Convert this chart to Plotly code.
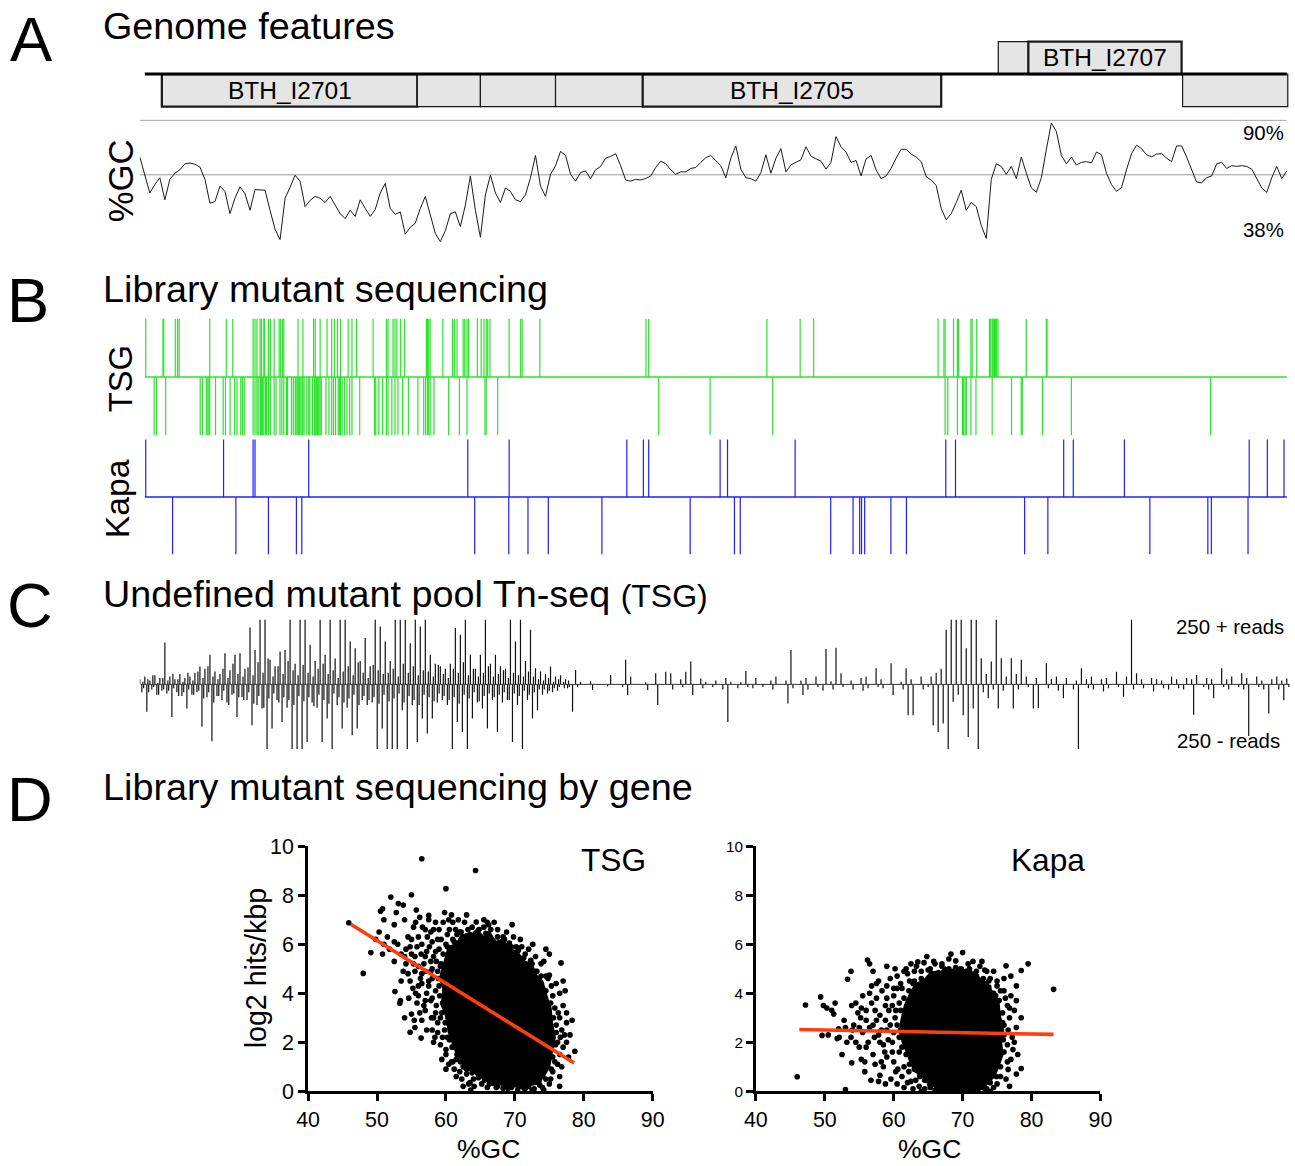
import plotly.graph_objects as go

# The page is photographed so that a page pixel q lands at picture pixel OFF + S*q.
# All positions below are given in picture pixels of the 1295x1166 target and mapped back.
S, OFF = 0.98, 12.4
FW, FH = 1310, 1180
FONT = "Liberation Sans, Arial, Helvetica, sans-serif"

# ---------------- data ----------------
gene_names = ["BTH_I2701", "", "", "", "BTH_I2705", "", "BTH_I2707", ""]
gene_start = [220, 2770, 3400, 4150, 5020, 8570, 8870, 10410]
gene_end = [2770, 3400, 4150, 5020, 8000, 8870, 10400, 11460]
gene_strand = [-1, -1, -1, -1, -1, 1, 1, -1]
region_start, region_end = 50, 11450

gc_window_step = 50
gc_percent = [
    73.8, 65.5, 58.0, 61.7, 64.7, 55.0, 64.0, 66.7, 68.2, 70.8,
    71.2, 70.6, 69.4, 64.0, 53.5, 54.2, 61.0, 58.7, 48.9, 55.7,
    60.7, 57.7, 50.4, 59.5, 59.5, 59.2, 50.4, 42.0, 37.5, 55.7,
    60.5, 65.8, 63.2, 52.0, 54.7, 56.5, 55.7, 53.8, 56.5, 52.7,
    48.9, 46.7, 50.4, 47.7, 55.0, 51.2, 47.7, 50.7, 58.0, 62.2,
    51.2, 48.6, 49.7, 39.9, 42.9, 44.7, 51.2, 56.5, 48.2, 40.2,
    36.6, 41.4, 48.9, 49.7, 43.2, 52.7, 65.5, 50.4, 38.5, 57.2,
    65.9, 58.0, 53.8, 60.2, 58.7, 55.0, 54.2, 57.2, 64.7, 74.5,
    61.0, 56.5, 66.2, 70.0, 76.3, 74.5, 66.2, 63.2, 67.0, 67.7,
    64.3, 68.2, 69.7, 73.3, 74.1, 75.3, 70.0, 63.7, 63.2, 64.0,
    63.7, 64.4, 65.5, 69.2, 72.0, 70.9, 68.2, 66.2, 67.3, 67.3,
    68.8, 69.2, 71.5, 73.5, 74.5, 72.3, 70.0, 64.7, 73.3, 78.7,
    68.5, 64.7, 64.3, 63.2, 67.0, 74.8, 66.7, 73.3, 77.5, 67.3,
    70.3, 71.5, 72.6, 78.3, 74.2, 73.0, 72.0, 68.5, 71.5, 82.8,
    78.3, 76.0, 71.5, 72.3, 65.5, 73.0, 74.5, 68.2, 64.3, 65.5,
    68.8, 73.3, 77.2, 77.2, 75.1, 73.8, 71.8, 65.2, 63.7, 61.3,
    51.2, 46.2, 48.9, 53.8, 59.2, 50.4, 53.8, 52.0, 43.7, 38.0,
    64.0, 70.8, 69.7, 66.2, 69.7, 64.3, 73.8, 66.7, 60.2, 58.3,
    64.7, 77.2, 88.8, 85.0, 74.5, 70.8, 73.8, 70.3, 71.5, 71.8,
    71.2, 76.0, 74.8, 66.7, 61.7, 58.7, 60.4, 68.2, 75.3, 79.0,
    77.5, 74.8, 73.9, 75.1, 75.3, 73.3, 71.8, 78.7, 78.7, 73.8,
    68.5, 62.8, 62.5, 64.7, 65.5, 70.8, 71.5, 68.8, 70.0, 69.7,
    70.0, 69.7, 68.5, 64.4, 60.2, 58.3, 64.7, 69.7, 64.3, 67.7,
]
gc_mid_line = 66
gc_top_line = 90

tsg_plus = [59, 231, 239, 354, 377, 392, 698, 863, 928, 1131, 1150, 1169, 1200, 1215,
            1238, 1246, 1284, 1303, 1341, 1391, 1406, 1426, 1437, 1579, 1628, 1735, 1751,
            1800, 1869, 1915, 1942, 1973, 2003, 2080, 2118, 2164, 2329, 2462, 2478, 2528,
            2547, 2566, 2604, 2642, 2861, 2872, 2884, 2899, 3025, 3121, 3140, 3167, 3228,
            3243, 3266, 3282, 3370, 3408, 3435, 3458, 3473, 3496, 3687, 3802, 3817, 3993,
            5053, 5080, 6260, 6592, 6727, 7969, 8027, 8039, 8123, 8162, 8174, 8297, 8309,
            8355, 8482, 8494, 8509, 8517, 8525, 8532, 8540, 8548, 8555, 8567, 8849, 9049, 9057]
tsg_minus = [143, 166, 258, 603, 626, 664, 679, 691, 698, 756, 832, 855, 901, 947, 970,
             1008, 1024, 1043, 1131, 1150, 1169, 1181, 1200, 1207, 1215, 1226, 1238, 1253,
             1265, 1284, 1303, 1341, 1360, 1399, 1418, 1437, 1464, 1475, 1514, 1533, 1552,
             1559, 1571, 1582, 1590, 1598, 1609, 1621, 1628, 1640, 1667, 1686, 1697, 1724,
             1743, 1751, 1762, 1774, 1781, 1789, 1800, 1812, 1858, 1888, 1915, 1934, 1954,
             1980, 1992, 2003, 2019, 2042, 2068, 2095, 2118, 2195, 2344, 2355, 2386, 2424,
             2462, 2478, 2516, 2547, 2577, 2623, 2681, 2776, 2834, 2853, 2872, 2884, 2899,
             2937, 3083, 3190, 3266, 3446, 3458, 3572, 5180, 5693, 6318, 8039, 8066, 8162,
             8212, 8224, 8239, 8251, 8297, 8347, 8509, 8702, 8799, 8810, 9011, 9300, 10689]
kapa_plus = [59, 836, 1131, 1150, 1686, 3274, 3687, 4862, 5027, 5080, 5793, 5867, 6542,
             8046, 8143, 9223, 9319, 9829, 11075, 11256, 11422]
kapa_minus = [327, 959, 1284, 1563, 1617, 3343, 3683, 3875, 4078, 4613, 5494, 5936, 5994,
              6897, 7120, 7186, 7205, 7236, 7498, 7653, 8833, 9065, 10083, 10662, 10697, 11063]

tn_bin = 50
tn_plus_reads = [
    20, 30, 15, 35, 25, 162, 30, 20, 40, 25,
    30, 45, 69, 60, 114, 50, 40, 120, 55, 114,
    120, 60, 220, 133, 250, 250, 95, 70, 127, 133,
    250, 80, 250, 250, 153, 90, 250, 114, 250, 100,
    250, 250, 166, 140, 90, 179, 70, 250, 224, 166,
    90, 250, 250, 250, 159, 250, 224, 250, 114, 80,
    70, 60, 80, 218, 192, 250, 114, 60, 114, 250,
    80, 114, 70, 60, 250, 166, 250, 90, 211, 62,
    50, 40, 69, 30, 35, 20, 0, 56, 10, 0,
    12, 0, 0, 0, 36, 0, 0, 95, 30, 0,
    0, 8, 0, 43, 0, 49, 43, 0, 20, 49,
    88, 0, 23, 10, 0, 15, 0, 25, 10, 0,
    8, 52, 0, 25, 0, 0, 15, 30, 0, 15,
    133, 0, 15, 25, 0, 30, 0, 137, 12, 142,
    43, 0, 15, 0, 25, 30, 0, 62, 20, 0,
    82, 0, 10, 62, 20, 0, 30, 0, 30, 45,
    60, 211, 250, 250, 250, 140, 250, 250, 101, 40,
    88, 250, 101, 30, 101, 40, 95, 30, 0, 25,
    0, 82, 20, 30, 0, 25, 0, 15, 62, 20,
    30, 0, 20, 25, 0, 49, 0, 30, 250, 43,
    20, 0, 25, 20, 15, 0, 30, 20, 0, 25,
    20, 36, 0, 25, 20, 0, 62, 20, 30, 0,
    43, 25, 0, 30, 15, 0, 20, 30, 15, 23,
]
tn_minus_reads = [
    -30, -106, -20, -40, -25, -35, -126, -30, -45, -93,
    -40, -30, -164, -50, -220, -45, -60, -70, -40, -126,
    -50, -60, -158, -80, -93, -250, -171, -60, -145, -90,
    -250, -250, -250, -223, -70, -90, -223, -132, -250, -80,
    -171, -90, -197, -171, -60, -80, -70, -250, -171, -250,
    -250, -250, -100, -250, -80, -223, -132, -190, -132, -70,
    -60, -80, -250, -145, -184, -250, -132, -70, -93, -171,
    -60, -184, -70, -60, -223, -80, -250, -60, -132, -100,
    -40, -35, -30, -25, 0, -15, -106, -10, 0, 0,
    -22, 0, 0, -8, 0, 0, -10, -41, 0, 0,
    0, -22, 0, -80, 0, 0, -20, 0, -10, 0,
    -41, 0, -15, 0, -10, 0, -20, -145, 0, -15,
    0, -10, -15, 0, -10, 0, -20, 0, 0, -74,
    -15, 0, -41, -20, 0, -10, -25, 0, -20, 0,
    -10, 0, -20, 0, -25, -15, 0, -10, -15, 0,
    -41, 0, -20, -119, -119, 0, -20, -10, -158, -184,
    -151, -250, -67, -40, -119, -203, -93, -250, -30, -54,
    -20, -93, -25, 0, -93, -20, 0, -10, -93, -91,
    0, -15, 0, -25, -54, 0, -20, -250, 0, -15,
    -20, 0, -28, -15, 0, -10, -48, 0, -20, 0,
    -15, 0, -28, 0, -15, -20, 0, -15, -20, 0,
    -117, 0, -10, -20, -54, 0, -10, -20, 0, -10,
    -20, -200, 0, -10, -20, -113, 0, -20, -61, -10,
]
# extra insertion sites between the bins of the dense left part
tn_plus_reads_mid = [
    10, 20, 35, 5, 25, 15, 40, 20, 10, 45,
    15, 50, 25, 70, 30, 20, 60, 25, 80, 40,
    30, 65, 35, 85, 45, 100, 30, 70, 40, 90,
    55, 35, 75, 45, 30, 60, 80, 40, 55, 25,
    50, 70, 35, 85, 45, 25, 75, 55, 40, 45,
    60, 30, 80, 45, 70, 35, 55, 50, 30, 75,
    40, 25, 60, 45, 85, 35, 60, 30, 45, 70,
    30, 40, 55, 25, 45, 35, 30, 50, 30, 20,
    15, 25, 10, 20, 10, 15,
]
tn_minus_reads_mid = [
    -15, -30, -10, -40, -20, -25, -15, -45, -30, -20,
    -40, -25, -55, -30, -70, -45, -25, -80, -35, -50,
    -60, -30, -75, -45, -90, -55, -35, -70, -50, -60,
    -80, -45, -65, -50, -85, -40, -60, -75, -35, -50,
    -70, -55, -40, -80, -45, -60, -50, -75, -40, -65,
    -55, -35, -70, -45, -60, -80, -40, -50, -65, -35,
    -45, -60, -50, -75, -40, -55, -30, -65, -45, -35,
    -50, -40, -30, -60, -35, -45, -25, -40, -30, -20,
    -20, -25, -15, -10, -15, -10,
]

# dense cores of the per-gene scatter (solid black areas)
tsg_core_gc = [59.6, 60.4, 61.5, 62.3, 63.4, 64.5, 65.4, 66.3, 67.2, 68.2, 69.3, 70.3, 71.4,
               72.4, 73.2, 74.0, 74.6, 75.2, 75.4, 75.8, 75.4, 75.0, 74.2, 73.3, 72.2, 71.1,
               70.0, 69.0, 67.9, 66.8, 65.8, 64.7, 63.7, 62.9, 62.2, 61.6, 60.9, 60.4, 60.1,
               59.4, 59.6, 59.2]
tsg_core_log2 = [5.1, 5.9, 6.0, 6.4, 6.3, 6.6, 6.3, 6.5, 6.1, 6.2, 5.8, 5.7, 5.3, 5.2, 4.7,
                 4.5, 3.9, 3.4, 2.8, 2.2, 1.6, 1.0, 0.6, 0.3, 0.25, 0.1, 0.2, 0.1, 0.3, 0.25,
                 0.5, 0.6, 0.9, 0.8, 1.3, 1.5, 2.0, 2.4, 3.0, 3.5, 4.2, 4.7]
kapa_core_gc = [61.1, 61.6, 62.4, 63.2, 64.3, 65.4, 66.5, 67.5, 68.5, 69.5, 70.6, 71.6, 72.7,
                73.6, 74.4, 75.2, 75.4, 75.9, 75.6, 75.8, 75.2, 74.6, 73.8, 73.0, 71.9, 70.8,
                69.8, 68.8, 67.7, 66.7, 65.6, 64.7, 63.9, 63.1, 62.4, 61.9, 61.4, 60.9]
kapa_core_log2 = [2.9, 3.5, 4.0, 4.4, 4.5, 4.85, 4.75, 5.05, 4.85, 5.05, 4.75, 4.85, 4.55,
                  4.4, 4.0, 3.7, 3.1, 2.5, 2.0, 1.5, 1.0, 0.6, 0.4, 0.1, 0.05, 0.0, 0.05, 0.0,
                  0.05, 0.05, 0.25, 0.4, 0.7, 0.8, 1.2, 1.6, 1.9, 2.4]

tsg_gc = [56.5, 64.3, 60.0, 55.0, 52.0, 53.1, 53.8, 50.8, 50.5, 45.9, 48.0, 49.1, 50.8, 49.8,
          51.5, 52.5, 53.0, 54.5, 55.3, 56.2, 57.5, 57.8, 58.5, 59.8, 56.5, 55.5, 54.2, 53.8,
          52.6, 53.4, 53.3, 55.0, 54.8, 56.5, 56.8, 56.4, 58.0, 58.5, 58.5, 57.5, 56.5, 57.8,
          59.0, 58.0, 60.5, 61.0, 62.0, 63.2, 64.4, 65.5, 66.5, 67.5, 68.5, 69.5, 70.5, 71.5,
          72.5, 73.2, 74.5, 75.0, 76.7, 75.5, 76.5, 77.0, 76.5, 77.5, 76.8, 78.0, 77.5, 78.7,
          76.5, 76.8, 76.5, 75.5, 75.0, 74.0, 72.8, 72.0, 70.5, 69.0, 67.5, 66.5, 65.2, 64.1,
          64.0, 63.0, 62.5, 61.5, 60.8, 62.0, 61.0, 60.5, 59.8, 59.2, 59.5, 59.0, 58.8, 60.3,
          61.2, 62.5, 63.8, 60.8, 57.0, 56.0, 55.8, 57.2, 58.2, 56.8, 55.5, 54.8, 56.0, 57.2,
          58.0, 57.0, 55.8, 58.8, 59.5, 60.0, 61.2, 62.3, 63.3, 58.2, 55.5, 54.0, 53.5, 52.5,
          51.8, 50.3, 51.0, 52.8, 54.0, 55.7, 57.5, 59.0, 61.8, 63.5, 65.0, 66.0, 62.8, 61.0,
          60.0, 59.3, 58.0, 57.0, 68.0, 69.8, 71.0, 73.8, 74.0, 75.8, 76.2, 77.8, 75.8, 75.2,
          73.5, 71.5, 68.5, 66.0, 65.0, 63.8, 62.7, 61.5, 60.3, 60.5, 59.5, 76.0, 77.3, 76.0,
          77.2, 78.3, 74.8, 73.0, 71.8, 70.0,
          60.2, 61.0, 61.5, 62.2, 63.0, 63.8, 64.8, 65.8, 66.8, 67.5, 68.3, 69.2, 70.2, 71.3,
          72.3, 73.0, 73.8, 74.5, 75.2, 75.6, 76.0, 75.9, 75.5, 75.3, 74.5, 73.6, 72.5, 71.4,
          70.4, 69.5, 68.3, 67.3, 66.3, 65.6, 64.7, 63.8, 62.9, 62.1, 61.6, 60.9, 60.2, 59.9,
          59.4, 59.1, 58.9, 59.2, 59.6, 61.4, 62.7, 66.2, 68.8, 70.8, 72.0, 74.2, 75.3, 76.3,
          76.6, 76.2, 74.2, 63.5, 62.0, 61.0, 60.0, 58.8, 58.2, 57.8, 57.5, 58.0, 58.5, 59.3,
          60.2, 57.0, 56.3, 56.0, 55.2, 54.5, 55.0, 56.0, 54.8, 53.5, 52.5, 51.0,
          54.2, 55.0, 55.6, 56.6, 57.3, 58.2, 58.8, 59.6, 60.4, 61.6, 57.6, 56.4, 55.3, 54.0,
          57.8, 58.6, 56.5, 55.6, 54.6, 57.0, 58.6, 57.9, 56.2, 55.4, 57.2, 58.4, 59.2, 60.4,
          59.4, 61.5, 62.5, 63.6, 60.0, 63.0, 65.5, 67.0, 69.6, 72.6, 75.0, 77.0, 77.5, 77.0,
          76.5, 74.5]
tsg_log2 = [9.49, 9.01, 8.27, 8.02, 7.93, 7.66, 7.60, 7.45, 7.35, 6.88, 4.81, 5.66, 5.60, 6.20,
            6.30, 6.80, 6.00, 6.30, 6.70, 7.10, 7.18, 6.50, 6.90, 7.30, 6.00, 5.50, 5.20, 4.90,
            4.07, 3.70, 3.59, 3.15, 2.41, 2.90, 3.50, 2.17, 2.50, 3.20, 4.10, 4.50, 4.80, 5.30,
            5.80, 6.10, 6.60, 6.90, 6.50, 6.60, 6.91, 6.70, 6.60, 6.30, 6.20, 5.90, 5.75, 5.60,
            5.20, 4.90, 4.70, 4.74, 5.24, 3.90, 4.00, 3.50, 3.00, 2.80, 2.50, 2.30, 2.00, 1.63,
            1.50, 1.00, 0.60, 0.80, 0.30, 0.15, 0.10, 0.20, 0.30, 0.10, 0.20, 0.40, 0.30, 0.20,
            0.50, 0.70, 1.00, 1.30, 1.20, 1.50, 1.80, 2.10, 2.50, 3.00, 3.60, 4.30, 4.90, 5.40,
            6.10, 6.20, 6.00, 7.20, 6.60, 6.30, 5.90, 5.70, 5.50, 5.20, 4.90, 4.50, 4.30, 4.00,
            3.80, 3.30, 3.60, 2.80, 2.20, 1.70, 0.90, 0.50, 0.30, 2.00, 2.60, 3.00, 4.50, 5.30,
            5.80, 6.50, 7.00, 7.30, 7.00, 7.40, 7.00, 6.60, 7.00, 6.40, 6.30, 6.90, 5.90, 5.50,
            6.00, 5.20, 4.60, 4.90, 6.00, 6.30, 5.90, 5.20, 4.20, 3.40, 2.00, 1.40, 1.20, 0.50,
            0.40, 0.10, 0.35, 0.15, 0.70, 1.20, 1.60, 2.50, 3.00, 3.80, 4.50, 4.40, 4.10, 2.70,
            2.30, 2.90, 4.60, 5.50, 0.60, 0.55,
            5.90, 6.20, 5.95, 6.50, 6.35, 6.70, 6.60, 6.45, 6.15, 6.60, 6.30, 6.05, 5.90, 5.45,
            5.35, 4.90, 4.70, 4.10, 3.60, 3.00, 2.40, 1.90, 1.40, 0.90, 0.50, 0.25, 0.05, 0.10,
            0.05, 0.15, 0.12, 0.15, 0.30, 0.45, 0.55, 0.75, 0.95, 1.20, 1.50, 1.80, 2.20, 2.80,
            3.20, 3.90, 4.60, 5.10, 5.60, 6.60, 6.90, 6.80, 6.50, 6.20, 5.80, 5.30, 4.30, 3.20,
            2.20, 1.10, 0.05, 0.35, 0.80, 1.20, 1.50, 2.40, 3.00, 3.70, 4.30, 5.00, 5.70, 6.20,
            6.40, 5.50, 4.60, 3.90, 4.20, 4.80, 5.60, 5.10, 5.90, 5.60, 6.10, 6.00,
            5.80, 6.20, 6.90, 6.70, 6.30, 6.60, 6.20, 6.90, 7.00, 6.40, 5.90, 5.60, 5.20, 5.50,
            4.90, 5.30, 4.40, 4.00, 3.80, 3.70, 3.50, 3.00, 3.20, 2.90, 2.50, 2.20, 1.90, 1.10,
            1.30, 0.60, 0.20, 0.05, 0.90, 7.20, 7.00, 6.90, 6.80, 6.00, 5.60, 4.50, 3.20, 1.80,
            0.20, 5.80]

kapa_gc = [46.0, 47.2, 49.4, 49.8, 50.3, 51.0, 51.3, 49.6, 52.0, 52.1, 51.8, 53.0, 53.3, 53.8,
           53.9, 53.8, 53.9, 54.5, 55.0, 55.5, 55.2, 56.0, 56.2, 56.5, 57.0, 56.8, 57.5, 57.5,
           56.5, 57.0, 56.7, 57.8, 58.0, 58.5, 58.5, 58.2, 58.8, 59.0, 59.5, 60.0, 60.2, 59.8,
           60.0, 60.3, 61.0, 61.5, 61.2, 62.5, 62.8, 63.7, 63.5, 64.4, 65.3, 65.5, 66.5, 67.5,
           68.5, 69.0, 70.0, 71.0, 72.0, 72.5, 73.2, 74.0, 75.0, 75.5, 76.3, 78.5, 79.5, 83.2,
           77.0, 76.5, 77.5, 76.8, 77.8, 77.2, 76.5, 77.3, 76.5, 76.6, 78.5, 78.5, 75.5, 75.0,
           74.5, 73.5, 71.5, 69.0, 66.0, 64.5, 65.2, 68.0, 55.5, 54.8, 56.3, 57.8, 58.8, 59.3,
           60.8, 61.0, 60.8, 61.5, 62.2, 59.0, 58.0, 57.0, 56.0, 55.0, 54.2, 53.2, 52.8, 57.8,
           60.5, 62.0, 62.8, 64.0, 67.0, 70.5, 73.8, 74.8, 76.0, 75.8, 76.0, 75.8, 74.8, 73.8,
           72.5, 70.5, 67.0, 63.8, 62.5, 61.8, 77.8, 56.8, 55.8, 59.6,
           61.0, 61.5, 62.2, 63.0, 64.0, 65.0, 66.0, 67.0, 68.0, 69.0, 70.0, 71.0, 72.0, 73.0,
           73.8, 74.5, 75.3, 75.8, 76.0, 75.9, 76.0, 75.5, 74.9, 74.0, 73.2, 72.2, 70.3, 67.3,
           65.3, 64.5, 63.8, 63.0, 62.3, 61.8, 61.2, 60.8, 60.5, 60.3, 60.0, 60.0, 59.5, 59.2,
           58.7, 59.0, 59.8, 60.6, 61.2, 62.0, 63.2, 76.6, 76.8, 77.0, 76.3, 76.2, 75.0, 73.5,
           71.5, 69.8, 68.0, 66.0, 64.8, 63.0, 62.3, 60.2, 59.0, 58.3, 57.3, 56.5, 55.3, 54.0,
           55.8, 57.3,
           57.5, 58.0, 59.0, 59.8, 60.5, 61.8, 62.5, 58.2, 58.8, 60.5, 61.5, 63.3, 65.8, 68.3,
           70.8, 72.8, 74.5, 76.0, 77.0, 77.8, 77.5, 78.0, 77.8, 76.8, 74.0, 71.0, 66.5, 64.0,
           57.2, 56.0, 55.3, 54.5, 53.0, 52.5, 50.5, 51.5]
kapa_log2 = [0.59, 3.52, 3.85, 3.50, 3.40, 3.30, 3.15, 2.28, 2.55, 2.20, 2.15, 0.07, 4.57, 4.90,
             3.50, 2.20, 1.16, 2.00, 1.80, 2.40, 3.00, 3.30, 5.36, 5.20, 4.90, 4.30, 3.80, 2.90,
             2.60, 1.50, 0.45, 0.40, 0.65, 1.00, 1.90, 2.50, 3.50, 4.30, 4.60, 3.90, 3.00, 2.00,
             1.20, 0.80, 4.40, 4.90, 4.20, 0.40, 0.10, 0.20, 5.28, 5.25, 5.00, 4.80, 4.85, 4.90,
             4.90, 5.32, 5.66, 5.00, 4.90, 5.10, 4.95, 4.60, 4.30, 4.10, 5.12, 4.93, 5.20, 4.16,
             3.90, 3.50, 3.30, 3.00, 2.60, 2.20, 1.90, 1.70, 1.20, 0.89, 0.93, 3.00, 0.60, 0.30,
             0.15, 0.10, 0.05, 0.05, 0.05, 0.10, 0.30, 0.02, 3.90, 3.20, 2.00, 2.30, 2.90, 3.30,
             3.60, 2.50, 1.60, 1.00, 0.80, 1.40, 3.10, 2.70, 2.90, 2.60, 2.70, 2.00, 2.90, 4.50,
             4.70, 4.80, 4.40, 4.90, 5.10, 4.90, 4.50, 3.90, 4.10, 2.80, 2.30, 1.60, 1.00, 0.60,
             0.30, 0.20, 0.35, 0.60, 1.40, 1.90, 3.70, 3.60, 1.20, 0.50,
             3.30, 3.80, 4.10, 4.50, 4.60, 4.95, 4.80, 5.20, 5.00, 5.05, 4.85, 4.90, 4.70, 4.60,
             4.25, 4.00, 3.70, 3.20, 2.70, 2.10, 1.60, 1.00, 0.60, 0.35, 0.10, 0.05, 0.02, 0.05,
             0.15, 0.45, 0.70, 0.90, 1.10, 1.50, 1.80, 2.20, 2.70, 3.30, 4.20, 2.40, 2.70, 2.10,
             1.60, 3.80, 1.60, 0.90, 0.60, 0.35, 0.45, 2.50, 3.40, 1.30, 0.50, 3.80, 4.50, 4.90,
             5.30, 5.00, 5.40, 5.20, 5.50, 4.90, 4.50, 5.00, 5.10, 4.10, 3.30, 4.00, 3.40, 2.50,
             0.80, 1.10,
             4.40, 2.00, 2.50, 3.50, 4.20, 5.00, 5.20, 1.20, 0.30, 0.30, 0.15, 5.10, 5.30, 5.60,
             5.20, 5.30, 4.90, 4.60, 4.70, 4.30, 2.00, 1.50, 0.70, 0.20, 0.00, 0.00, 0.00, 0.00,
             2.20, 1.80, 1.30, 3.60, 2.60, 1.50, 2.30, 3.60]

tsg_fit_gc = [46.2, 78.6]
tsg_fit_log2 = [6.82, 1.15]
kapa_fit_gc = [46.3, 83.2]
kapa_fit_log2 = [2.52, 2.32]


# ---------------- helpers (picture pixels -> figure fractions) ----------------
def fx(p):
    return (p - OFF) / S


def dom_x(a, b):
    return [max(0.0, fx(a) / FW), min(1.0, fx(b) / FW)]


def dom_y(top, bottom):
    return [max(0.0, 1 - fx(bottom) / FH), min(1.0, 1 - fx(top) / FH)]


def px(x):
    return fx(x) / FW


def py(y):
    return 1 - fx(y) / FH


def fs(size):
    return size / S


def sticks(positions, y0, y1):
    xs, ys = [], []
    for p in positions:
        xs += [p, p, None]
        ys += [y0, y1, None]
    return xs, ys


fig = go.Figure()

for name, s, e, st in zip(gene_names, gene_start, gene_end, gene_strand):
    fig.add_trace(go.Scatter(
        x=[s, e, e, s, s], y=[0, 0, st, st, 0], mode="lines", fill="toself",
        fillcolor="#e5e5e5", line=dict(color="#1a1a1a", width=fs(2.2) if name else fs(1.2)),
        xaxis="x", yaxis="y", hoverinfo="skip", showlegend=False))
fig.add_trace(go.Scatter(x=[region_start, region_end], y=[0, 0], mode="lines",
                         line=dict(color="black", width=fs(3)), xaxis="x", yaxis="y",
                         showlegend=False, hoverinfo="skip"))

gc_pos = [i * gc_window_step for i in range(len(gc_percent))]
for lvl in (gc_top_line, gc_mid_line):
    fig.add_trace(go.Scatter(x=[0, region_end], y=[lvl, lvl], mode="lines",
                             line=dict(color="#9a9a9a", width=1), xaxis="x", yaxis="y2",
                             showlegend=False, hoverinfo="skip"))
fig.add_trace(go.Scatter(x=gc_pos, y=gc_percent, mode="lines",
                         line=dict(color="#1a1a1a", width=1), xaxis="x", yaxis="y2",
                         showlegend=False))

GREEN, BLUE = "#2ee32e", "#1f1fff"
for arr, yax, col, sign in ((tsg_plus, "y3", GREEN, 1), (tsg_minus, "y3", GREEN, -1),
                            (kapa_plus, "y4", BLUE, 1), (kapa_minus, "y4", BLUE, -1)):
    xs, ys = sticks(arr, 0, sign)
    fig.add_trace(go.Scatter(x=xs, y=ys, mode="lines", line=dict(color=col, width=1.2),
                             xaxis="x", yaxis=yax, showlegend=False, hoverinfo="skip"))
for yax, col in (("y3", GREEN), ("y4", BLUE)):
    fig.add_trace(go.Scatter(x=[region_start, region_end], y=[0, 0], mode="lines",
                             line=dict(color=col, width=1.6), xaxis="x", yaxis=yax,
                             showlegend=False, hoverinfo="skip"))

xs, ys = [], []
for i, (up, dn) in enumerate(zip(tn_plus_reads, tn_minus_reads)):
    p = i * tn_bin
    if up:
        xs += [p, p, None]; ys += [0, up, None]
    if dn:
        xs += [p + 20, p + 20, None]; ys += [0, dn, None]
for i, (up, dn) in enumerate(zip(tn_plus_reads_mid, tn_minus_reads_mid)):
    p = i * tn_bin + 30
    xs += [p, p, None]; ys += [0, up, None]
    xs += [p + 8, p + 8, None]; ys += [0, dn, None]
fig.add_trace(go.Scatter(x=xs, y=ys, mode="lines", line=dict(color="#111", width=1.2),
                         xaxis="x", yaxis="y5", showlegend=False, hoverinfo="skip"))
fig.add_trace(go.Scatter(x=[10, 11480], y=[0, 0], mode="lines",
                         line=dict(color="#333", width=1), xaxis="x", yaxis="y5",
                         showlegend=False, hoverinfo="skip"))

for cg, cl, g, l, fg, fl, xa, ya in (
        (tsg_core_gc, tsg_core_log2, tsg_gc, tsg_log2, tsg_fit_gc, tsg_fit_log2, "x2", "y6"),
        (kapa_core_gc, kapa_core_log2, kapa_gc, kapa_log2, kapa_fit_gc, kapa_fit_log2, "x3", "y7")):
    fig.add_trace(go.Scatter(x=cg + cg[:1], y=cl + cl[:1], mode="lines", fill="toself",
                             fillcolor="black", line=dict(color="black", width=2),
                             cliponaxis=False, xaxis=xa, yaxis=ya, showlegend=False,
                             hoverinfo="skip"))
    fig.add_trace(go.Scatter(x=g, y=l, mode="markers", marker=dict(color="black", size=fs(5.5)),
                             cliponaxis=False, xaxis=xa, yaxis=ya, showlegend=False))
    fig.add_trace(go.Scatter(x=fg, y=fl, mode="lines", line=dict(color="#ff3d0d", width=fs(3.5)),
                             xaxis=xa, yaxis=ya, showlegend=False))

# genome axis: 10 bp per picture pixel, starting at picture x=140
GX = dom_x(140, 1288)
hidden = dict(visible=False, showgrid=False, zeroline=False, fixedrange=True)
sc_axis = dict(showline=True, linecolor="black", linewidth=fs(2.5), ticks="outside",
               ticklen=fs(7), tickwidth=fs(2.5), tickcolor="black", showgrid=False,
               zeroline=False, tickfont=dict(family=FONT, size=fs(21), color="black"))

fig.update_layout(
    width=FW, height=FH, margin=dict(l=0, r=0, t=0, b=0),
    paper_bgcolor="white", plot_bgcolor="white", showlegend=False,
    xaxis=dict(hidden, domain=GX, range=[0, 11480], anchor="y"),
    yaxis=dict(hidden, domain=dom_y(40.4, 110.6), range=[-1.08, 1.08], anchor="x"),
    yaxis2=dict(hidden, domain=dom_y(121, 249), range=[34, 90.3], anchor="x"),
    yaxis3=dict(hidden, domain=dom_y(319, 438), range=[-1.02, 1.02], anchor="x"),
    yaxis4=dict(hidden, domain=dom_y(440, 557), range=[-1.02, 1.02], anchor="x"),
    yaxis5=dict(hidden, domain=dom_y(620, 752), range=[-255, 255], anchor="x"),
    xaxis2=dict(sc_axis, domain=dom_x(308, 652), range=[40, 90], dtick=10, tick0=40, anchor="y6"),
    yaxis6=dict(sc_axis, domain=dom_y(848, 1093), range=[0, 10], dtick=2, anchor="x2"),
    xaxis3=dict(sc_axis, domain=dom_x(755, 1099), range=[40, 90], dtick=10, tick0=40, anchor="y7"),
    yaxis7=dict(sc_axis, domain=dom_y(848, 1093), range=[0, 10], dtick=2, anchor="x3",
                tickfont=dict(family=FONT, size=fs(15), color="black")),
)


def note(text, x, y, size, xanchor="left", angle=0, color="black"):
    fig.add_annotation(text=text, x=px(x), y=py(y), xref="paper", yref="paper",
                       xanchor=xanchor, yanchor="middle", showarrow=False, textangle=angle,
                       font=dict(family=FONT, size=fs(size), color=color))


note("A", 32, 40, 62, "center")
note("B", 28, 301, 62, "center")
note("C", 30, 607, 62, "center")
note("D", 30, 801, 62, "center")
note("Genome features", 101, 27, 37)
note("Library mutant sequencing", 101, 290, 37)
note("Undefined mutant pool Tn-seq <span style='font-size:%dpx'>(TSG)</span>" % round(fs(31)),
     101, 596, 37)
note("Library mutant sequencing by gene", 101, 789, 37)

note("%GC", 121, 182, 34, "center", -90)
note("TSG", 121, 380, 32, "center", -90)
note("Kapa", 118, 500, 33, "center", -90)
note("90%", 1284, 134, 20, "right")
note("38%", 1284, 231, 20, "right")
note("250 + reads", 1284, 629, 20, "right")
note("250 - reads", 1280, 743, 20, "right")

for name, s, e, st in zip(gene_names, gene_start, gene_end, gene_strand):
    if name:
        fig.add_annotation(text=name, x=(s + e) / 2, y=st * 0.5, xref="x", yref="y",
                           showarrow=False, font=dict(family=FONT, size=fs(24), color="black"))

note("TSG", 613, 862, 31, "center")
note("Kapa", 1047, 862, 31, "center")
note("log2 hits/kbp", 256, 970, 28, "center", -90)
note("%GC", 488, 1151, 26, "center")
note("%GC", 928, 1151, 26, "center")

fig.write_html("out.html", config={"displayModeBar": False},
               post_script="document.body.style.margin='0px';"
                           "document.body.style.padding='0px';"
                           "document.body.style.overflow='hidden';")
